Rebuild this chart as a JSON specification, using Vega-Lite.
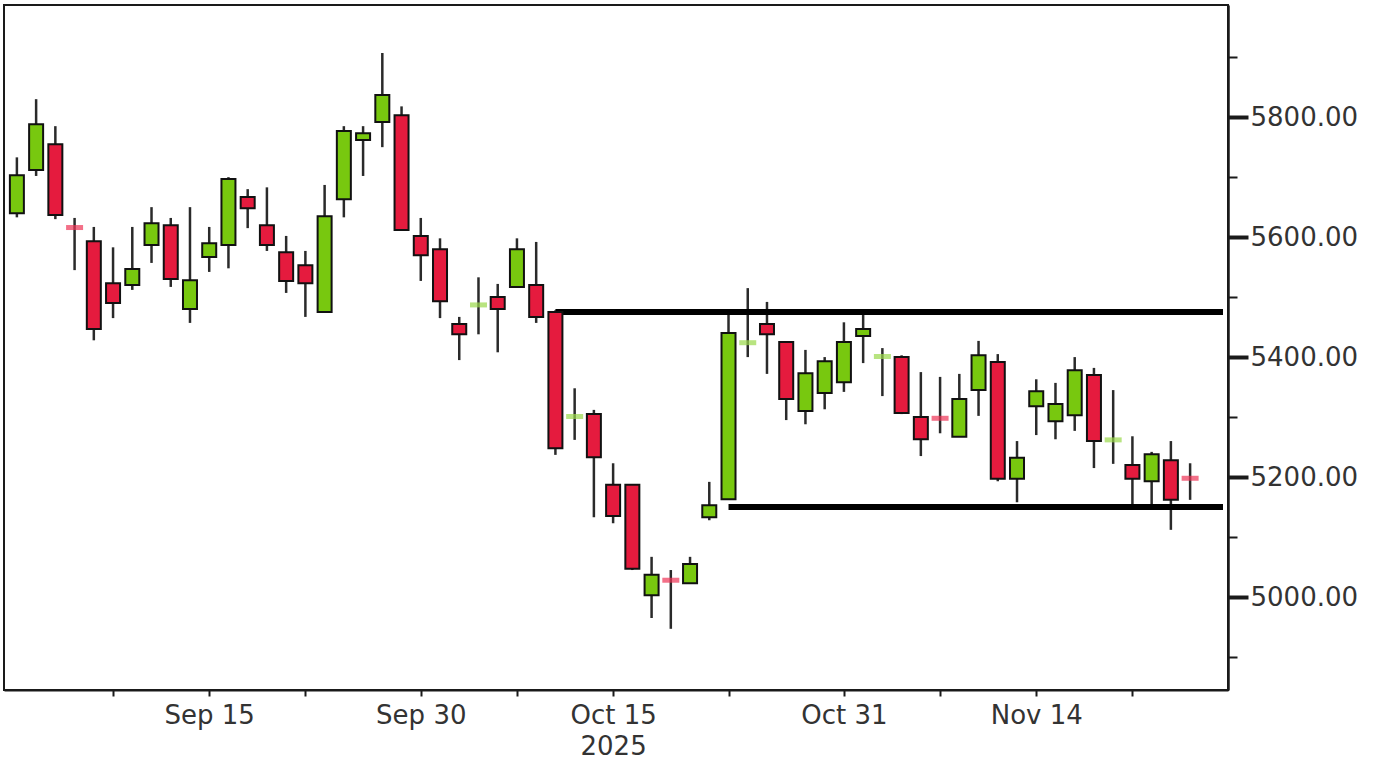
{
  "$schema": "https://vega.github.io/schema/vega-lite/v6.json",
  "width": 1224,
  "height": 685,
  "autosize": {"type": "none"},
  "padding": {"left": 4, "top": 5, "right": 145, "bottom": 71},
  "background": "#ffffff",
  "config": {
    "view": {"stroke": "#1a1a1a", "strokeWidth": 2},
    "axis": {"labelFont": "DejaVu Sans", "labelFontSize": 26, "labelColor": "#333333", "domainColor": "#1a1a1a", "tickColor": "#1a1a1a", "grid": false, "title": null}
  },
  "datasets": {
    "candles": [
      {"i":0,"open":5640,"high":5733,"low":5633,"close":5703},
      {"i":1,"open":5712,"high":5830,"low":5702,"close":5788},
      {"i":2,"open":5755,"high":5785,"low":5630,"close":5637},
      {"i":3,"open":5616,"high":5632,"low":5545,"close":5614},
      {"i":4,"open":5593,"high":5617,"low":5428,"close":5447},
      {"i":5,"open":5523,"high":5583,"low":5465,"close":5490},
      {"i":6,"open":5520,"high":5617,"low":5512,"close":5547},
      {"i":7,"open":5587,"high":5650,"low":5557,"close":5623},
      {"i":8,"open":5620,"high":5632,"low":5517,"close":5530},
      {"i":9,"open":5480,"high":5650,"low":5457,"close":5528},
      {"i":10,"open":5567,"high":5617,"low":5542,"close":5590},
      {"i":11,"open":5587,"high":5700,"low":5548,"close":5697},
      {"i":12,"open":5667,"high":5680,"low":5615,"close":5648},
      {"i":13,"open":5620,"high":5683,"low":5577,"close":5587},
      {"i":14,"open":5575,"high":5602,"low":5507,"close":5527},
      {"i":15,"open":5553,"high":5577,"low":5467,"close":5523},
      {"i":16,"open":5475,"high":5687,"low":5475,"close":5635},
      {"i":17,"open":5663,"high":5785,"low":5633,"close":5777},
      {"i":18,"open":5762,"high":5785,"low":5702,"close":5773},
      {"i":19,"open":5792,"high":5907,"low":5750,"close":5837},
      {"i":20,"open":5803,"high":5818,"low":5612,"close":5612},
      {"i":21,"open":5602,"high":5632,"low":5527,"close":5570},
      {"i":22,"open":5580,"high":5598,"low":5465,"close":5493},
      {"i":23,"open":5455,"high":5467,"low":5395,"close":5438},
      {"i":24,"open":5487,"high":5533,"low":5438,"close":5489},
      {"i":25,"open":5500,"high":5522,"low":5408,"close":5480},
      {"i":26,"open":5517,"high":5598,"low":5517,"close":5580},
      {"i":27,"open":5520,"high":5592,"low":5457,"close":5467},
      {"i":28,"open":5475,"high":5478,"low":5237,"close":5248},
      {"i":29,"open":5301,"high":5348,"low":5262,"close":5303},
      {"i":30,"open":5305,"high":5312,"low":5133,"close":5233},
      {"i":31,"open":5187,"high":5223,"low":5123,"close":5135},
      {"i":32,"open":5187,"high":5187,"low":5045,"close":5047},
      {"i":33,"open":5003,"high":5067,"low":4965,"close":5037},
      {"i":34,"open":5028,"high":5045,"low":4947,"close":5026},
      {"i":35,"open":5023,"high":5067,"low":5023,"close":5055},
      {"i":36,"open":5133,"high":5192,"low":5128,"close":5153},
      {"i":37,"open":5163,"high":5473,"low":5163,"close":5440},
      {"i":38,"open":5424,"high":5515,"low":5400,"close":5426},
      {"i":39,"open":5455,"high":5492,"low":5372,"close":5438},
      {"i":40,"open":5425,"high":5425,"low":5295,"close":5330},
      {"i":41,"open":5310,"high":5412,"low":5288,"close":5373},
      {"i":42,"open":5340,"high":5400,"low":5313,"close":5393},
      {"i":43,"open":5358,"high":5458,"low":5342,"close":5425},
      {"i":44,"open":5435,"high":5473,"low":5390,"close":5447},
      {"i":45,"open":5401,"high":5415,"low":5335,"close":5403},
      {"i":46,"open":5400,"high":5403,"low":5305,"close":5307},
      {"i":47,"open":5300,"high":5375,"low":5235,"close":5263},
      {"i":48,"open":5298,"high":5367,"low":5273,"close":5296},
      {"i":49,"open":5267,"high":5372,"low":5267,"close":5330},
      {"i":50,"open":5345,"high":5427,"low":5302,"close":5403},
      {"i":51,"open":5392,"high":5405,"low":5193,"close":5197},
      {"i":52,"open":5197,"high":5260,"low":5158,"close":5232},
      {"i":53,"open":5318,"high":5363,"low":5270,"close":5343},
      {"i":54,"open":5293,"high":5357,"low":5263,"close":5322},
      {"i":55,"open":5303,"high":5400,"low":5277,"close":5378},
      {"i":56,"open":5370,"high":5382,"low":5215,"close":5260},
      {"i":57,"open":5262,"high":5345,"low":5222,"close":5264},
      {"i":58,"open":5220,"high":5268,"low":5150,"close":5197},
      {"i":59,"open":5193,"high":5242,"low":5150,"close":5238},
      {"i":60,"open":5228,"high":5260,"low":5112,"close":5162},
      {"i":61,"open":5198,"high":5223,"low":5162,"close":5196}
    ],
    "levels": [
      {"start": 28, "end": 62.71, "price": 5475},
      {"start": 37, "end": 62.71, "price": 5150}
    ]
  },
  "layer": [
    {
      "data": {"name": "candles"},
      "mark": {"type": "rule", "color": "#2a2a2a", "strokeWidth": 2.5, "clip": true},
      "encoding": {
        "x": {"field": "i", "type": "quantitative",
          "scale": {"domain": [-0.41, 62.71], "nice": false, "zero": false},
          "axis": {
            "values": [5, 10, 15, 21, 26, 31, 37, 43, 48, 53, 58],
            "labelExpr": "datum.value == 10 ? 'Sep 15' : datum.value == 21 ? 'Sep 30' : datum.value == 31 ? ['Oct 15', '2025'] : datum.value == 43 ? 'Oct 31' : datum.value == 53 ? 'Nov 14' : ''",
            "tickSize": 6, "tickWidth": 2, "domainWidth": 2, "labelPadding": 6, "labelLineHeight": 31, "labelFlush": false, "labelOverlap": false
          }
        },
        "y": {"field": "low", "type": "quantitative",
          "scale": {"domain": [4845, 5987], "nice": false, "zero": false},
          "axis": {
            "orient": "right",
            "values": [4900, 5000, 5100, 5200, 5300, 5400, 5500, 5600, 5700, 5800, 5900],
            "labelExpr": "datum.value % 200 == 0 ? format(datum.value, '.2f') : ''",
            "tickSize": {"condition": {"test": "datum.value % 200 == 0", "value": 20}, "value": 9},
            "tickWidth": {"condition": {"test": "datum.value % 200 == 0", "value": 4}, "value": 2},
            "domainWidth": 2.5, "labelPadding": 2, "labelOverlap": false, "labelFlush": false
          }
        },
        "y2": {"field": "high"}
      }
    },
    {
      "data": {"name": "levels"},
      "mark": {"type": "rule", "color": "#000000", "strokeWidth": 6, "clip": true},
      "encoding": {
        "x": {"field": "start", "type": "quantitative"},
        "x2": {"field": "end"},
        "y": {"field": "price", "type": "quantitative"}
      }
    },
    {
      "data": {"name": "candles"},
      "transform": [{"filter": "abs(datum.close - datum.open) >= 4"}],
      "mark": {"type": "bar", "size": 14, "stroke": "#111111", "strokeWidth": 2, "clip": true},
      "encoding": {
        "x": {"field": "i", "type": "quantitative"},
        "y": {"field": "open", "type": "quantitative"},
        "y2": {"field": "close"},
        "color": {"condition": {"test": "datum.close > datum.open", "value": "#78c80f"}, "value": "#e51b3e"}
      }
    },
    {
      "data": {"name": "candles"},
      "transform": [{"filter": "abs(datum.close - datum.open) < 4"}],
      "mark": {"type": "tick", "orient": "horizontal", "size": 17, "thickness": 5, "clip": true},
      "encoding": {
        "x": {"field": "i", "type": "quantitative"},
        "y": {"field": "open", "type": "quantitative"},
        "color": {"condition": {"test": "datum.close > datum.open", "value": "#9ad94a"}, "value": "#ee3355"}
      }
    }
  ]
}
